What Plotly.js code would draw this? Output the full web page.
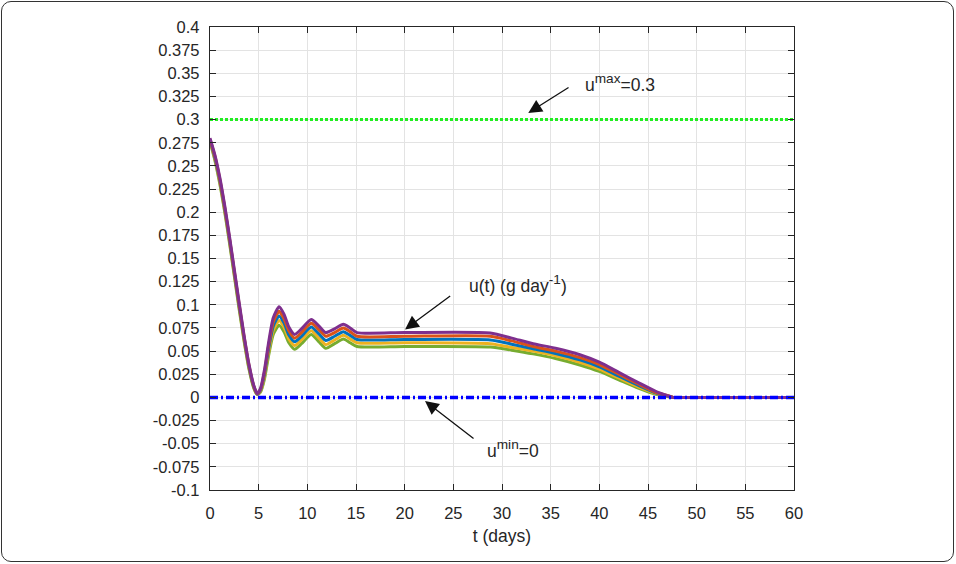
<!DOCTYPE html>
<html>
<head>
<meta charset="utf-8">
<script src="https://cdn.plot.ly/plotly-3.0.1.min.js"></script>
<style>
  html, body { margin: 0; padding: 0; background: #ffffff; }
  #wrap { position: relative; width: 956px; height: 564px; }
  #chart { width: 956px; height: 564px; }
  #frame { position: absolute; left: 1px; top: 1px; width: 951px; height: 559px;
           border: 1.5px solid #333333; border-radius: 10px; pointer-events: none; }
</style>
</head>
<body>
<div id="wrap"><div id="chart"></div><div id="frame"></div></div>
<script>
// ---- data ----
const tDays = [0, 0.5, 1, 1.5, 2, 2.5, 3, 3.5, 4, 4.5, 4.85, 5.2, 5.6, 6, 6.5, 7.1, 7.6, 8.1, 8.7, 9.4,
               10.4, 11.2, 11.9, 12.8, 13.7, 14.4, 15.1, 20, 28.8, 31, 33.2, 35.5, 38, 40, 42, 44,
               45.9, 47, 47.6, 50, 60];
// control band: five trajectories, top (purple) to bottom (green)
const uLine1 = [0.280, 0.262, 0.238, 0.208, 0.174, 0.138, 0.102, 0.067, 0.036, 0.013, 0.004, 0.010, 0.030, 0.058, 0.086, 0.098, 0.090, 0.076, 0.068, 0.074,
                0.084, 0.077, 0.070, 0.074, 0.079, 0.075, 0.070, 0.070, 0.0695, 0.064, 0.058, 0.053, 0.046, 0.038, 0.027, 0.016,
                0.006, 0.002, 0, 0, 0];
const uLine2 = [0.279, 0.2605, 0.236, 0.206, 0.172, 0.136, 0.100, 0.0655, 0.035, 0.012, 0.004, 0.009, 0.0275, 0.0545, 0.0815, 0.093, 0.085, 0.072, 0.064, 0.070,
                0.080, 0.073, 0.066, 0.070, 0.075, 0.071, 0.066, 0.066, 0.066, 0.061, 0.055, 0.050, 0.043, 0.0355, 0.025, 0.0145,
                0.005, 0.002, 0, 0, 0];
const uLine3 = [0.278, 0.259, 0.2345, 0.2045, 0.1705, 0.1345, 0.0985, 0.064, 0.0335, 0.0115, 0.0035, 0.008, 0.025, 0.051, 0.077, 0.088, 0.0805, 0.0675, 0.060, 0.066,
                0.076, 0.0685, 0.0615, 0.066, 0.071, 0.067, 0.0625, 0.0625, 0.062, 0.0575, 0.0525, 0.0475, 0.0405, 0.033, 0.023, 0.013,
                0.0045, 0.0015, 0, 0, 0];
const uLine4 = [0.277, 0.2575, 0.233, 0.203, 0.169, 0.133, 0.097, 0.0625, 0.032, 0.011, 0.003, 0.007, 0.0225, 0.0475, 0.0725, 0.083, 0.076, 0.063, 0.056, 0.062,
                0.072, 0.064, 0.057, 0.062, 0.067, 0.063, 0.059, 0.059, 0.058, 0.054, 0.050, 0.045, 0.038, 0.0305, 0.021, 0.0115,
                0.004, 0.001, 0, 0, 0];
const uLine5 = [0.276, 0.256, 0.231, 0.201, 0.167, 0.131, 0.095, 0.061, 0.031, 0.010, 0.003, 0.006, 0.020, 0.044, 0.068, 0.078, 0.071, 0.059, 0.052, 0.058,
                0.068, 0.060, 0.053, 0.058, 0.063, 0.059, 0.055, 0.055, 0.0545, 0.051, 0.047, 0.042, 0.035, 0.028, 0.019, 0.010,
                0.003, 0.001, 0, 0, 0];
const uMaxValue = 0.3;
const uMinValue = 0;
const xRange = [0, 60];
const xTickVals = [0, 5, 10, 15, 20, 25, 30, 35, 40, 45, 50, 55, 60];
const yTickVals = [-0.1, -0.075, -0.05, -0.025, 0, 0.025, 0.05, 0.075, 0.1, 0.125, 0.15, 0.175, 0.2,
                   0.225, 0.25, 0.275, 0.3, 0.325, 0.35, 0.375, 0.4];
const yTickLabels = ['-0.1', '-0.075', '-0.05', '-0.025', '0', '0.025', '0.05', '0.075', '0.1', '0.125', '0.15', '0.175', '0.2',
                     '0.225', '0.25', '0.275', '0.3', '0.325', '0.35', '0.375', '0.4'];
const xLabel = 't (days)';
const N = (s) => '<span style="font-size:17.5px">' + s + '</span>';
const labelUmax = N('u') + '<sup>max</sup>' + N('=0.3');
const labelU = N('u(t) (g day') + '<sup>-1</sup>' + N(')');
const labelUmin = N('u') + '<sup>min</sup>' + N('=0');

// ---- traces ----
const bandLines = [uLine5, uLine4, uLine3, uLine2, uLine1];
const bandColors = ['#77AC30', '#EDB120', '#0072BD', '#D95319', '#7E2F8E'];
const traces = bandLines.map((ys, i) => ({
  x: tDays, y: ys, type: 'scatter', mode: 'lines',
  line: { color: bandColors[i], width: 3, shape: 'spline', smoothing: 0.6 },
  hoverinfo: 'skip', showlegend: false
}));
traces.push({
  x: xRange, y: [uMinValue, uMinValue], type: 'scatter', mode: 'lines',
  line: { color: '#0000FF', width: 3.5, dash: '8px,3px,2px,3px' }, showlegend: false
});
traces.push({
  x: xRange, y: [uMaxValue, uMaxValue], type: 'scatter', mode: 'lines',
  line: { color: '#22EE22', width: 3, dash: '3px,2px' }, showlegend: false
});

const fontFam = 'Liberation Sans, Arial, Helvetica, sans-serif';
const txtColor = '#262626';

function arrow(hx, hy, tx, ty) {
  return { x: hx, y: hy, ax: tx, ay: ty, xref: 'x', yref: 'y', axref: 'x', ayref: 'y',
           text: '', showarrow: true, arrowhead: 2, arrowsize: 2.1, arrowwidth: 1.3,
           arrowcolor: '#111111', standoff: 0, startstandoff: 0 };
}
function label(x, y, text) {
  return { x: x, y: y, xref: 'x', yref: 'y', text: text, showarrow: false,
           font: { family: fontFam, size: 19.5, color: txtColor }, xanchor: 'center', yanchor: 'middle' };
}

const layout = {
  width: 956, height: 564,
  margin: { l: 210, r: 162, t: 27, b: 74 },
  paper_bgcolor: '#ffffff', plot_bgcolor: '#ffffff',
  font: { family: fontFam, size: 16, color: txtColor },
  showlegend: false,
  xaxis: {
    range: xRange, tickvals: xTickVals, ticktext: xTickVals.map(String),
    ticks: 'inside', ticklen: 6, tickcolor: txtColor, tickwidth: 1,
    showline: true, linecolor: txtColor, linewidth: 1.2, mirror: 'ticks',
    showgrid: true, gridcolor: '#e3e3e3', gridwidth: 1, zeroline: false,
    ticklabelstandoff: 8,
    tickfont: { family: fontFam, size: 16.5, color: txtColor },
    title: { text: xLabel, font: { family: fontFam, size: 17.5, color: txtColor }, standoff: 8 }
  },
  yaxis: {
    range: [-0.1, 0.4], tickvals: yTickVals, ticktext: yTickLabels,
    ticks: 'inside', ticklen: 6, tickcolor: txtColor, tickwidth: 1,
    showline: true, linecolor: txtColor, linewidth: 1.2, mirror: 'ticks',
    showgrid: true, gridcolor: '#e3e3e3', gridwidth: 1, zeroline: false,
    ticklabelstandoff: 6,
    tickfont: { family: fontFam, size: 16.5, color: txtColor }
  },
  annotations: [
    arrow(32.70, 0.3072, 36.99, 0.3356),
    label(42.12, 0.339, labelUmax),
    arrow(20.04, 0.0734, 24.83, 0.1108),
    label(31.6, 0.122, labelU),
    arrow(22.09, -0.0040, 27.23, -0.0457),
    label(31.13, -0.056, labelUmin)
  ]
};

Plotly.newPlot('chart', traces, layout, { staticPlot: true, displayModeBar: false });
</script>
</body>
</html>
